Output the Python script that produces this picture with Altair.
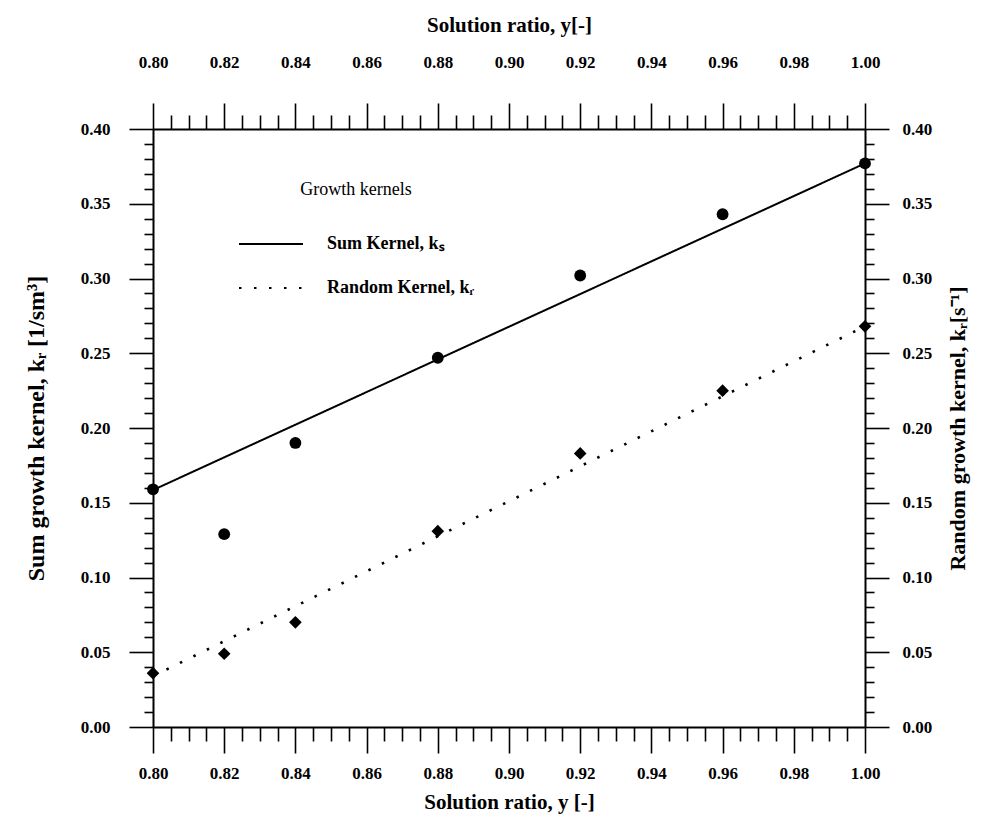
import altair as alt
import pandas as pd

# ---- data ----
ratio = [0.80, 0.82, 0.84, 0.88, 0.92, 0.96, 1.00]
sum_kernel = [0.159, 0.129, 0.190, 0.247, 0.302, 0.343, 0.377]
random_kernel = [0.036, 0.049, 0.070, 0.131, 0.183, 0.225, 0.268]

fit_x = [0.80, 1.00]
sum_fit = [0.1585, 0.377]
random_fit = [0.034, 0.268]

series_names = ["Sum Kernel, kₛ", "Random Kernel, kᵣ"]

x_ticks = [round(0.80 + 0.005 * i, 3) for i in range(41)]
y_ticks = [round(0.01 * i, 2) for i in range(41)]

df_sum = pd.DataFrame({"x": ratio, "v": sum_kernel, "series": series_names[0]})
df_rand = pd.DataFrame({"x": ratio, "v": random_kernel, "series": series_names[1]})
df_sum_fit = pd.DataFrame({"x": fit_x, "v": sum_fit, "series": series_names[0]})
df_rand_fit = pd.DataFrame({"x": fit_x, "v": random_fit, "series": series_names[1]})

FONT = "Liberation Serif"
major_x = "abs(datum.value*50 - round(datum.value*50)) < 0.001"
major_y = "abs(datum.value*20 - round(datum.value*20)) < 0.001"

xdom = alt.Scale(domain=[0.80, 1.00], nice=False, zero=False)
ydom = alt.Scale(domain=[0.0, 0.40], nice=False, zero=False)


def x_axis(orient, title, tick_major, tick_minor, pad, tpad):
    return alt.Axis(
        orient=orient, title=title, values=x_ticks, tickCount=200,
        labelExpr=f"{major_x} ? format(datum.value, '.2f') : ''",
        tickSize={"condition": {"test": major_x, "value": tick_major}, "value": tick_minor},
        tickColor="black", tickWidth=1.6, domainColor="black", domainWidth=2,
        labelFont=FONT, labelFontSize=17, labelFontWeight="bold", labelColor="black",
        labelPadding=pad, labelOverlap=False, labelFlush=False,
        titleFont=FONT, titleFontSize=21, titleFontWeight="bold", titleColor="black",
        titlePadding=tpad, grid=False,
    )


def y_axis(orient, title, pad, tpad, baseline, tsize):
    return alt.Axis(
        orient=orient, title=title, values=y_ticks, tickCount=200,
        labelExpr=f"{major_y} ? format(datum.value, '.2f') : ''",
        tickSize={"condition": {"test": major_y, "value": 24}, "value": 9},
        tickColor="black", tickWidth=1.6, domainColor="black", domainWidth=2,
        labelFont=FONT, labelFontSize=17, labelFontWeight="bold", labelColor="black",
        labelPadding=pad, labelOverlap=False, labelFlush=False,
        titleFont=FONT, titleFontSize=tsize, titleFontWeight="bold", titleColor="black",
        titlePadding=tpad, titleAngle=270, titleBaseline=baseline, grid=False,
    )


dash = alt.StrokeDash(
    "series:N",
    scale=alt.Scale(domain=series_names, range=[[1, 0], [2.5, 12.5]]),
    legend=alt.Legend(
        title="Growth kernels", orient="none", legendX=85, legendY=52,
        titleFont=FONT, titleFontSize=18, titleFontWeight="normal", titleColor="black",
        titlePadding=12, titleAnchor="middle",
        labelFont=FONT, labelFontSize=18, labelFontWeight="bold", labelColor="black",
        labelOffset=23, labelLimit=400, symbolType="stroke", symbolSize=4096,
        symbolStrokeColor="black", symbolStrokeWidth=2, rowPadding=2,
    ),
)

sum_line = alt.Chart(df_sum_fit).mark_line(color="black", strokeWidth=2).encode(
    x=alt.X("x:Q", scale=xdom, axis=x_axis("bottom", "Solution ratio, y [-]", 26, 14, 12, 10)),
    y=alt.Y("v:Q", scale=ydom, axis=y_axis("left", "Sum growth kernel, kᵣ [1/sm³]", 19, 32, "bottom", 24)),
    strokeDash=dash,
)
sum_pts = alt.Chart(df_sum).mark_point(
    shape="circle", filled=True, color="black", size=140, opacity=1
).encode(x=alt.X("x:Q", scale=xdom), y=alt.Y("v:Q", scale=ydom))

rand_line = alt.Chart(df_rand_fit).mark_line(color="black", strokeWidth=2.6).encode(
    x=alt.X("x:Q", scale=xdom, axis=x_axis("top", "Solution ratio, y[-]", 26, 14, 32, 18)),
    y=alt.Y("v:Q", scale=ydom, axis=y_axis("right", "Random growth kernel, kᵣ[s⁻¹]", 13, 16, "top", 22)),
    strokeDash=dash,
)
rand_pts = alt.Chart(df_rand).mark_point(
    shape="diamond", filled=True, color="black", size=160, opacity=1
).encode(x=alt.X("x:Q", scale=xdom), y=alt.Y("v:Q", scale=ydom))

chart = (
    alt.layer(
        alt.layer(sum_line, sum_pts),
        alt.layer(rand_line, rand_pts),
    )
    .resolve_scale(x="independent", y="independent")
    .properties(
        width=712, height=598,
        autosize=alt.AutoSizeParams(type="none"),
        padding={"left": 145, "top": 121, "right": 110, "bottom": 100},
    )
    .configure_view(stroke=None)
    .configure(background="white")
)

chart.save("out.html", embed_options={"renderer": "svg", "actions": False})
